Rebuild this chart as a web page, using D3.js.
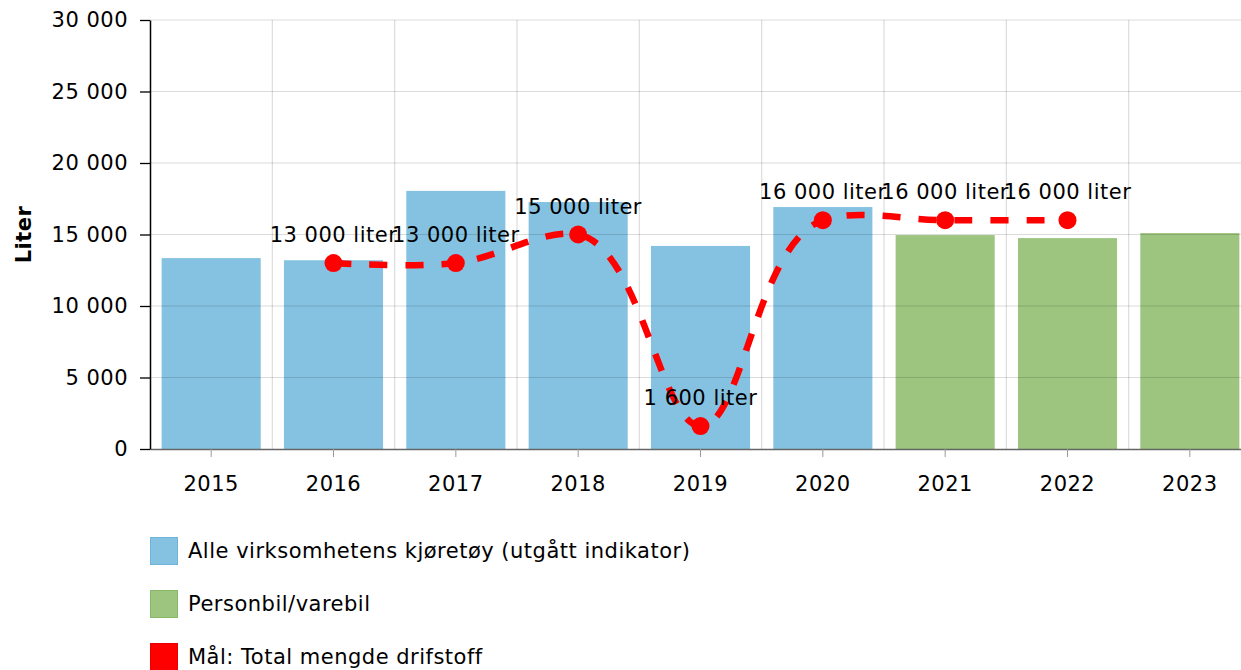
<!DOCTYPE html>
<html>
<head>
<meta charset="utf-8">
<script src="https://cdn.jsdelivr.net/npm/d3@7"></script>
<style>
  body { margin: 0; background: #fff; }
  svg { display: block; font-family: "DejaVu Sans", Verdana, sans-serif; }
</style>
</head>
<body>
<svg id="chart" width="1241" height="670"></svg>
<script>
// chart data
const years = ["2015", "2016", "2017", "2018", "2019", "2020", "2021", "2022", "2023"];
const allVehicles = [13350, 13200, 18050, 17270, 14200, 16920, null, null, null];
const carVan = [null, null, null, null, null, null, 14960, 14750, 15100];
const goalYears = ["2016", "2017", "2018", "2019", "2020", "2021", "2022"];
const goalValues = [13000, 13000, 15000, 1600, 16000, 16000, 16000];
const yTicks = [0, 5000, 10000, 15000, 20000, 25000, 30000];
const legendItems = [
  { label: "Alle virksomhetens kjøretøy (utgått indikator)", fill: "#85c2e1", stroke: "#6db3da" },
  { label: "Personbil/varebil", fill: "#9dc57f", stroke: "#86b865" },
  { label: "Mål: Total mengde drifstoff", fill: "#ff0000", stroke: "#e60000" }
];

const fmt = (v) => d3.format(",")(v).replace(/,/g, " ");
const FS = 21;
const LS = 0.5;

const svg = d3.select("#chart");
const plotLeft = 150, plotTop = 20, plotBottom = 449;

const x = d3.scaleBand().domain(years).range([plotLeft, 1251]).padding(0);
const y = d3.scaleLinear().domain([0, 30000]).range([plotBottom, plotTop]);
const bw = x.bandwidth();
const cx = (d) => x(d) + bw / 2;

// bars
const drawBars = (values, color) =>
  svg
    .append("g")
    .selectAll("rect")
    .data(years.map((yr, i) => ({ yr, v: values[i] })).filter((d) => d.v != null))
    .enter()
    .append("rect")
    .attr("x", (d) => x(d.yr) + bw * 0.095)
    .attr("width", bw * 0.81)
    .attr("y", (d) => y(d.v))
    .attr("height", (d) => plotBottom - y(d.v))
    .attr("fill", color);

drawBars(allVehicles, legendItems[0].fill);
drawBars(carVan, legendItems[1].fill);

// grid (drawn over the bars, semi transparent)
const grid = svg.append("g").attr("stroke", "rgba(0,0,0,0.14)").attr("stroke-width", 1.2);
grid
  .selectAll("line.h")
  .data(yTicks.slice(1))
  .enter()
  .append("line")
  .attr("x1", plotLeft)
  .attr("x2", 1241)
  .attr("y1", (d) => y(d))
  .attr("y2", (d) => y(d));
grid
  .selectAll("line.v")
  .data(years.slice(1))
  .enter()
  .append("line")
  .attr("x1", (d) => x(d))
  .attr("x2", (d) => x(d))
  .attr("y1", plotTop)
  .attr("y2", plotBottom);

// x axis
const xAxis = svg
  .append("g")
  .attr("transform", `translate(0,${plotBottom})`)
  .call(d3.axisBottom(x).tickSize(8).tickPadding(19).tickSizeOuter(0))
  .attr("font-family", null)
  .attr("font-size", FS);
xAxis.select(".domain").attr("stroke", "#666").attr("stroke-width", 1.5);
xAxis.selectAll(".tick line").attr("stroke", "#999");
xAxis.selectAll("text").attr("fill", "#000").attr("letter-spacing", LS);

// y axis
const yAxis = svg
  .append("g")
  .attr("transform", `translate(${plotLeft},0)`)
  .call(d3.axisLeft(y).tickValues(yTicks).tickFormat(fmt).tickSize(10).tickPadding(12).tickSizeOuter(0))
  .attr("font-family", null)
  .attr("font-size", FS);
yAxis.select(".domain").attr("stroke", "#000").attr("stroke-width", 1.5);
yAxis.selectAll(".tick line").attr("stroke", "#000").attr("stroke-width", 1.3);
yAxis.selectAll("text").attr("fill", "#000").attr("letter-spacing", LS);

svg
  .append("text")
  .attr("transform", `translate(31,${(plotTop + plotBottom) / 2}) rotate(-90)`)
  .attr("text-anchor", "middle")
  .attr("font-size", FS)
  .attr("letter-spacing", LS)
  .attr("font-weight", "bold")
  .text("Liter");

// goal line
const goal = goalYears.map((yr, i) => ({ yr, v: goalValues[i] }));
const line = d3
  .line()
  .x((d) => cx(d.yr))
  .y((d) => y(d.v))
  .curve(d3.curveCatmullRom.alpha(1));

svg
  .append("path")
  .datum(goal)
  .attr("d", line)
  .attr("fill", "none")
  .attr("stroke", "#ff0000")
  .attr("stroke-width", 6.5)
  .attr("stroke-dasharray", "18,18");

svg
  .append("g")
  .selectAll("circle")
  .data(goal)
  .enter()
  .append("circle")
  .attr("cx", (d) => cx(d.yr))
  .attr("cy", (d) => y(d.v))
  .attr("r", 9)
  .attr("fill", "#ff0000");

svg
  .append("g")
  .selectAll("text")
  .data(goal)
  .enter()
  .append("text")
  .attr("x", (d) => cx(d.yr))
  .attr("y", (d) => y(d.v) - 21)
  .attr("text-anchor", "middle")
  .attr("font-size", FS)
  .attr("letter-spacing", LS)
  .text((d) => `${fmt(d.v)} liter`);

// legend
const legend = svg
  .append("g")
  .selectAll("g")
  .data(legendItems)
  .enter()
  .append("g")
  .attr("transform", (d, i) => `translate(150,${537 + i * 53})`);
legend
  .append("rect")
  .attr("x", 0.5)
  .attr("y", 0.5)
  .attr("width", 27)
  .attr("height", 27)
  .attr("fill", (d) => d.fill)
  .attr("stroke", (d) => d.stroke);
legend
  .append("text")
  .attr("x", 38)
  .attr("y", 21)
  .attr("font-size", FS)
  .attr("letter-spacing", LS)
  .text((d) => d.label);
</script>
</body>
</html>
